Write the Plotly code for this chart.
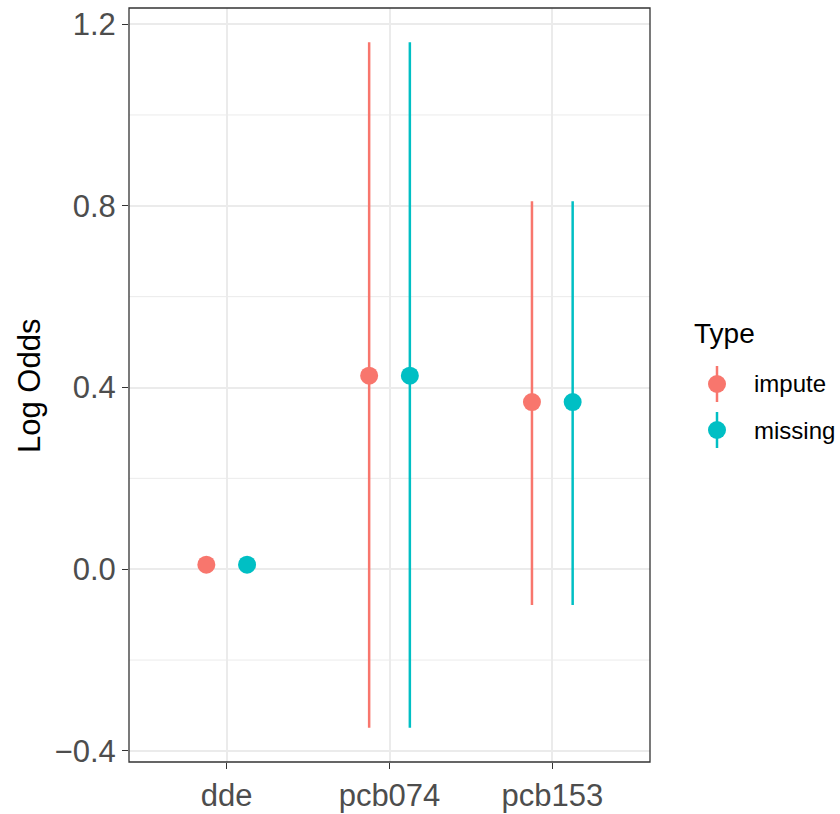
import plotly.graph_objects as go

categories = ["dde", "pcb074", "pcb153"]
types = ["impute", "missing"]
colors = {"impute": "#F8766D", "missing": "#00BFC4"}
estimate = {"impute": [0.010, 0.426, 0.368], "missing": [0.010, 0.426, 0.368]}
lower = {"impute": [0.005, -0.349, -0.079], "missing": [0.005, -0.349, -0.079]}
upper = {"impute": [0.015, 1.160, 0.810], "missing": [0.015, 1.160, 0.810]}
y_ticks = [-0.4, 0.0, 0.4, 0.8, 1.2]
y_tick_text = ["\u22120.4", "0.0", "0.4", "0.8", "1.2"]

W, H = 840, 814
L, R, T, B = 129, 190, 8, 52
pw, ph = W - L - R, H - T - B
FONT = "Liberation Sans, Arial"

dodge = 0.25
fig = go.Figure()
for i, t in enumerate(types):
    off = (i - (len(types) - 1) / 2) * dodge
    xs = [k + off for k in range(len(categories))]
    fig.add_trace(go.Scatter(
        x=xs, y=estimate[t], mode="markers", name=t, showlegend=False,
        marker=dict(color=colors[t], size=18, line=dict(width=0)),
        error_y=dict(type="data", symmetric=False,
                     array=[u - e for u, e in zip(upper[t], estimate[t])],
                     arrayminus=[e - l for e, l in zip(estimate[t], lower[t])],
                     color=colors[t], thickness=2.5, width=0),
    ))

ymin, ymax = -0.349, 1.160
span = ymax - ymin
yr = [ymin - 0.05 * span, ymax + 0.05 * span]

minor_vals = [v + 0.2 for v in y_ticks[:-1]]
shapes = []
for v in minor_vals:
    shapes.append(dict(type="line", xref="paper", x0=0, x1=1, yref="y", y0=v, y1=v,
                       line=dict(color="#EBEBEB", width=1), layer="below"))
shapes.append(dict(type="rect", xref="paper", yref="paper", x0=0, x1=1, y0=0, y1=1,
                   line=dict(color="#333333", width=1.3), fillcolor="rgba(0,0,0,0)", layer="above"))

def px(xp):
    return (xp - L) / pw

def py(yp):
    return 1 - (yp - T) / ph

annotations = [dict(text="Type", x=px(692), y=py(333), xref="paper", yref="paper",
                    xanchor="left", yanchor="middle", showarrow=False,
                    font=dict(size=28, color="black", family=FONT)),
               dict(text="Log Odds", x=px(29), y=py(386), xref="paper", yref="paper",
                    xanchor="center", yanchor="middle", showarrow=False, textangle=-90,
                    font=dict(size=31, color="black", family=FONT))]
key_y = [384, 430]
for t, ky in zip(types, key_y):
    shapes.append(dict(type="line", xref="paper", yref="paper", x0=px(717), x1=px(717),
                       y0=py(ky - 18), y1=py(ky + 18), line=dict(color=colors[t], width=2.5)))
    shapes.append(dict(type="circle", xref="paper", yref="paper", x0=px(708), x1=px(726),
                       y0=py(ky + 9), y1=py(ky - 9), line=dict(width=0), fillcolor=colors[t]))
    annotations.append(dict(text=t, x=px(752), y=py(ky), xref="paper", yref="paper",
                            xanchor="left", yanchor="middle", showarrow=False,
                            font=dict(size=24, color="black", family=FONT)))

fig.update_layout(
    width=W, height=H, margin=dict(l=L, r=R, t=T, b=B, autoexpand=False),
    paper_bgcolor="white", plot_bgcolor="white",
    font=dict(family=FONT, color="#4D4D4D"),
    showlegend=False, shapes=shapes, annotations=annotations,
    xaxis=dict(range=[-0.6, 2.6], tickvals=list(range(len(categories))), ticktext=categories,
               showgrid=True, gridcolor="#EBEBEB", gridwidth=2, zeroline=False,
               ticks="outside", ticklen=6, tickwidth=1.3, tickcolor="#333333",
               tickfont=dict(size=31, color="#4D4D4D"), showline=False, automargin=False),
    yaxis=dict(range=yr, tickvals=y_ticks, ticktext=y_tick_text,
               showgrid=True, gridcolor="#EBEBEB", gridwidth=2, zeroline=False,
               ticks="outside", ticklen=6, tickwidth=1.3, tickcolor="#333333",
               tickfont=dict(size=31, color="#4D4D4D"), showline=False, automargin=False),
)

fig.write_html("out.html", config={"displayModeBar": False},
               post_script="document.body.style.margin='0';")
